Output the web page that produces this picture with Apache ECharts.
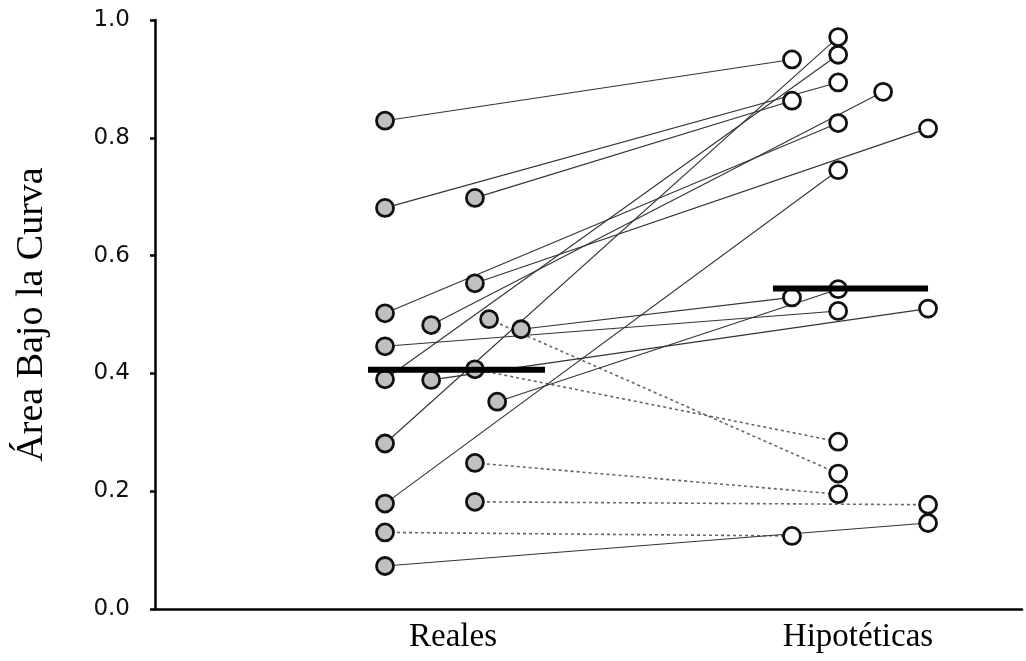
<!DOCTYPE html>
<html lang="es">
<head>
<meta charset="UTF-8">
<title>Área Bajo la Curva</title>
<script src="https://cdn.jsdelivr.net/npm/echarts@6/dist/echarts.min.js"></script>
<style>
  html, body { margin: 0; padding: 0; background: #fff; }
  #chart { width: 1026px; height: 661px; }
</style>
</head>
<body>
<div id="chart"></div>
<script>
// each index is one subject: real value (left) paired with hypothetical value (right)
var groups = ['Reales', 'Hipotéticas'];
var realVals   = [0.829, 0.681, 0.698, 0.553, 0.502, 0.482, 0.492, 0.475, 0.446, 0.390, 0.389, 0.407, 0.352, 0.281, 0.248, 0.179, 0.182, 0.130, 0.073];
var realJitter = [-0.168, -0.168, 0.054, 0.054, -0.168, -0.054, 0.089, 0.168, -0.168, -0.168, -0.054, 0.054, 0.109, -0.168, 0.054, -0.168, 0.054, -0.168, -0.168];
var hypoVals   = [0.933, 0.894, 0.863, 0.816, 0.825, 0.878, 0.230, 0.529, 0.506, 0.941, 0.510, 0.284, 0.543, 0.971, 0.195, 0.745, 0.177, 0.124, 0.146];
var hypoJitter = [-0.163, -0.049, -0.163, 0.173, -0.049, 0.062, -0.049, -0.163, -0.049, -0.049, 0.173, -0.049, -0.049, -0.049, -0.049, -0.049, 0.173, -0.163, 0.173];
var lineKind   = ['s', 's', 's', 's', 's', 's', 'd', 's', 's', 's', 's', 'd', 's', 's', 'd', 's', 'd', 'd', 's'];
// median bars
var medianVals = [0.406, 0.544];
var medianFrom = [-0.21, -0.21];
var medianTo   = [0.227, 0.173];

var chart = echarts.init(document.getElementById('chart'));

var series = [];
for (var i = 0; i < realVals.length; i++) {
  var dotted = lineKind[i] === 'd';
  series.push({
    type: 'line',
    silent: true,
    symbol: 'none',
    z: 2,
    lineStyle: {
      color: dotted ? '#666' : '#333',
      width: dotted ? 1.6 : 1.1,
      type: dotted ? [3, 3] : 'solid'
    },
    data: [[0 + realJitter[i], realVals[i]], [1 + hypoJitter[i], hypoVals[i]]]
  });
}
series.push({
  type: 'scatter',
  z: 3,
  symbol: 'circle',
  symbolSize: 17,
  itemStyle: { color: '#c0c0c0', borderColor: '#111', borderWidth: 2.8, opacity: 1 },
  data: realVals.map(function (v, i) { return [realJitter[i], v]; })
});
series.push({
  type: 'scatter',
  z: 3,
  symbol: 'circle',
  symbolSize: 17,
  itemStyle: { color: '#fff', borderColor: '#111', borderWidth: 2.8, opacity: 1 },
  data: hypoVals.map(function (v, i) { return [1 + hypoJitter[i], v]; })
});
for (var g = 0; g < medianVals.length; g++) {
  series.push({
    type: 'line',
    silent: true,
    symbol: 'none',
    z: 4,
    lineStyle: { color: '#000', width: 6 },
    data: [[g + medianFrom[g], medianVals[g]], [g + medianTo[g], medianVals[g]]]
  });
}

var option = {
  animation: false,
  backgroundColor: '#fff',
  grid: { left: 155, right: 4, top: 20, bottom: 52 },
  xAxis: {
    type: 'value',
    min: -0.736,
    max: 1.405,
    splitLine: { show: false },
    axisLine: { onZero: false, lineStyle: { color: '#000', width: 2.5 } },
    axisTick: { show: false },
    axisLabel: {
      customValues: [0, 1],
      margin: 12,
      color: '#000',
      fontFamily: 'Liberation Serif',
      fontSize: 33,
      formatter: function (v) { return groups[Math.round(v)]; }
    }
  },
  yAxis: {
    type: 'value',
    min: 0,
    max: 1,
    interval: 0.2,
    name: 'Área Bajo la Curva',
    nameLocation: 'middle',
    nameGap: 104,
    nameTextStyle: { color: '#000', fontFamily: 'Liberation Serif', fontSize: 38 },
    splitLine: { show: false },
    axisLine: { show: true, onZero: false, lineStyle: { color: '#000', width: 2.5 } },
    axisTick: { show: true, length: 5, lineStyle: { color: '#000', width: 2.5 } },
    axisLabel: {
      margin: 25,
      color: '#111',
      fontFamily: 'DejaVu Sans',
      fontSize: 23,
      formatter: function (v) { return v.toFixed(1); }
    }
  },
  series: series
};
chart.setOption(option);
</script>
</body>
</html>
